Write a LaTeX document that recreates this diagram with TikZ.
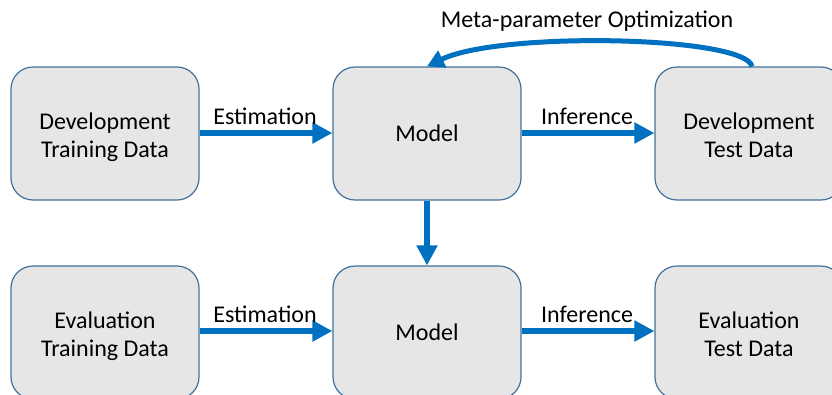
\documentclass[tikz,border=0pt]{standalone}
\usepackage{fontspec}
\setmainfont{Carlito}
\usetikzlibrary{arrows.meta}
\definecolor{boxfill}{HTML}{E6E6E6}
\definecolor{boxline}{HTML}{41719C}
\definecolor{arrblue}{HTML}{0070C0}
\newcommand{\toppad}{\rule{0pt}{25pt}}
\newcommand{\botpad}{\rule[-6pt]{0pt}{6pt}}
\begin{document}
\begin{tikzpicture}[x=1pt,y=-1pt,
  databox/.style={draw=boxline, line width=1.2pt, fill=boxfill, rounded corners=22pt,
    minimum width=188pt, minimum height=133pt, inner sep=0pt, align=center,
    font=\fontsize{24}{28}\selectfont},
  flow/.style={draw=arrblue, line width=6pt, -{Triangle[length=20pt,width=20pt]}, arrblue},
  lbl/.style={font=\fontsize{24}{28}\selectfont, inner sep=0pt}]
\useasboundingbox (0,0) rectangle (832,394);
\node[databox] (devtrain) at (105,133.5) {\toppad Development\\Training Data\botpad};
\node[databox] (devmodel) at (427,133.5) {Model};
\node[databox] (devtest) at (749,133.5) {\toppad Development\\Test Data\botpad};
\node[databox] (evtrain) at (105,332.5) {\toppad Evaluation\\Training Data\botpad};
\node[databox] (evmodel) at (427,332.5) {Model};
\node[databox] (evtest) at (749,332.5) {\toppad Evaluation\\Test Data\botpad};
\draw[flow] (devtrain.east |- 0,133) -- (devmodel.west |- 0,133);
\draw[flow] (devmodel.east |- 0,133) -- (devtest.west |- 0,133);
\draw[flow] (evtrain.east |- 0,331) -- (evmodel.west |- 0,331);
\draw[flow] (evmodel.east |- 0,331) -- (evtest.west |- 0,331);
\draw[flow] (devmodel.south) -- (evmodel.north);
\draw[draw=arrblue, line width=5pt, -{Triangle[length=17pt,width=18pt]}, arrblue]
  ([xshift=3pt]devtest.north) .. controls (745,36) and (500,31) .. (devmodel.north);
\node[lbl] (est1) at (265,116) {Estimation};
\node[lbl] (inf1) at (587,116) {Inference};
\node[lbl] (est2) at (265,314) {Estimation};
\node[lbl] (inf2) at (587,314) {Inference};
\node[lbl] (meta) at (587,21) {Meta-parameter Optimization};
\end{tikzpicture}
\end{document}
